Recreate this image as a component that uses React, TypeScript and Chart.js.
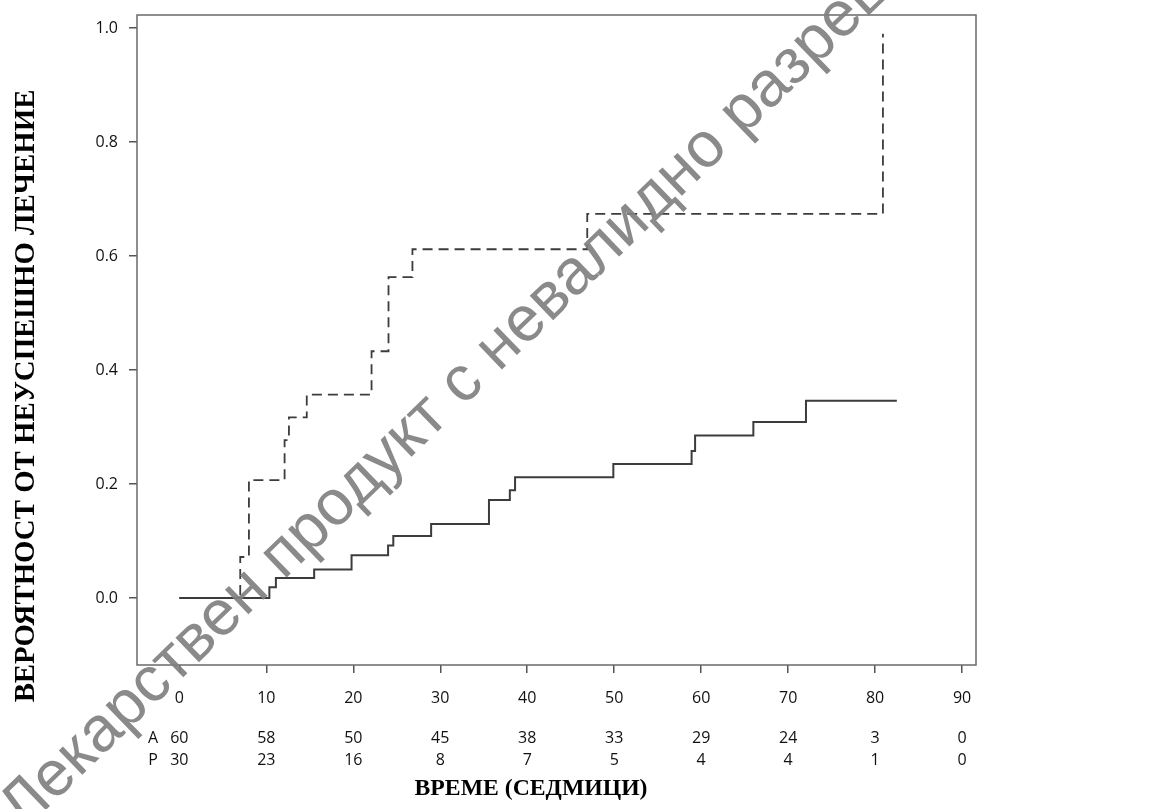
import React, { useEffect, useRef } from 'react';
import { Chart, registerables } from 'chart.js';

Chart.register(...registerables);

// Axis ticks
const xTicks = [0, 10, 20, 30, 40, 50, 60, 70, 80, 90];
const yTicks = [0, 0.2, 0.4, 0.6, 0.8, 1.0];

// Numbers at risk
const riskLabels = ['A', 'P'];
const atRiskA = [60, 58, 50, 45, 38, 33, 29, 24, 3, 0];
const atRiskP = [30, 23, 16, 8, 7, 5, 4, 4, 1, 0];

// Step curve A (solid)
const timesA = [0, 10.35, 11.1, 15.5, 19.8, 24.0, 24.6, 28.95, 35.6, 38.0, 38.6, 49.9, 58.9, 59.3, 66.0, 72.05, 82.5];
const probA = [0, 0.019, 0.035, 0.05, 0.075, 0.092, 0.109, 0.13, 0.172, 0.189, 0.212, 0.235, 0.258, 0.285, 0.309, 0.346, 0.346];

// Step curve P (dashed)
const timesP = [0, 7.0, 8.0, 12.1, 12.6, 14.65, 22.1, 24.05, 26.8, 46.9, 80.9];
const probP = [0, 0.072, 0.207, 0.277, 0.317, 0.357, 0.433, 0.563, 0.612, 0.674, 0.99];

const yTitle = 'ВЕРОЯТНОСТ ОТ НЕУСПЕШНО ЛЕЧЕНИЕ';
const xTitle = 'ВРЕМЕ (СЕДМИЦИ)';
const watermark = 'Лекарствен продукт с невалидно разрешение';

const W = 1152;
const H = 809;

const overlayPlugin = {
  id: 'overlay',
  beforeDatasetsDraw(chart: any) {
    const { ctx, chartArea } = chart;
    ctx.save();
    ctx.strokeStyle = '#6a6a6a';
    ctx.lineWidth = 1.5;
    ctx.strokeRect(chartArea.left, chartArea.top, chartArea.right - chartArea.left, chartArea.bottom - chartArea.top);
    ctx.restore();
  },
  afterDraw(chart: any) {
    const { ctx } = chart;
    const xs = chart.scales.x;
    ctx.save();
    // at-risk table
    ctx.fillStyle = '#111';
    ctx.font = '16px "Open Sans"';
    ctx.textAlign = 'center';
    ctx.textBaseline = 'middle';
    const rows = [atRiskA, atRiskP];
    const rowY = [738, 760];
    rows.forEach((row, r) => {
      ctx.fillText(riskLabels[r], 153, rowY[r]);
      row.forEach((v, i) => {
        ctx.fillText(String(v), xs.getPixelForValue(xTicks[i]), rowY[r]);
      });
    });

    // x title
    ctx.fillStyle = '#000';
    let size = 22;
    ctx.font = `bold ${size}px "Liberation Serif"`;
    let w = ctx.measureText(xTitle).width;
    size = size * 233 / w;
    ctx.font = `bold ${size}px "Liberation Serif"`;
    ctx.fillText(xTitle, 531, 789);

    // y title
    size = 22;
    ctx.font = `bold ${size}px "Liberation Serif"`;
    w = ctx.measureText(yTitle).width;
    size = size * 613 / w;
    ctx.font = `bold ${size}px "Liberation Serif"`;
    ctx.save();
    ctx.translate(27, 396);
    ctx.rotate(-Math.PI / 2);
    ctx.fillText(yTitle, 0, 0);
    ctx.restore();

    // watermark
    const fs = 64;
    ctx.font = `${fs}px "Liberation Sans"`;
    ctx.fillStyle = 'rgba(128,128,128,0.92)';
    ctx.textAlign = 'left';
    ctx.textBaseline = 'alphabetic';
    const prefix = 'Лекарствен продукт ';
    const pw = ctx.measureText(prefix).width;
    const cw = ctx.measureText('с').width;
    const ang = (44 * Math.PI) / 180;
    ctx.translate(463, 384);
    ctx.rotate(-ang);
    ctx.fillText(watermark, -(pw + cw / 2), 0.26 * fs);
    ctx.restore();
  },
};

export default function App() {
  const ref = useRef<HTMLCanvasElement | null>(null);
  useEffect(() => {
    if (!ref.current) return;
    const tickFont = { family: '"Open Sans"', size: 16 };
    const chart = new Chart(ref.current, {
      type: 'line',
      data: {
        datasets: [
          {
            label: 'A',
            data: timesA.map((t, i) => ({ x: t, y: probA[i] })),
            stepped: 'before',
            borderColor: '#3c3c3c',
            borderWidth: 2,
            pointRadius: 0,
            fill: false,
          },
          {
            label: 'P',
            data: timesP.map((t, i) => ({ x: t, y: probP[i] })),
            stepped: 'before',
            borderColor: '#3c3c3c',
            borderWidth: 1.8,
            borderDash: [10, 6],
            pointRadius: 0,
            fill: false,
          },
        ],
      },
      options: {
        responsive: false,
        animation: false,
        layout: { padding: { top: 15, right: W - 976, left: 0, bottom: 0 } },
        plugins: { legend: { display: false }, tooltip: { enabled: false } },
        scales: {
          x: {
            type: 'linear',
            min: -4.87,
            max: 91.6,
            afterBuildTicks: (s: any) => {
              s.ticks = xTicks.map((v) => ({ value: v }));
            },
            afterFit: (s: any) => {
              s.height = H - 665;
              s.paddingLeft = 0;
              s.paddingRight = 0;
            },
            border: { display: false },
            grid: { drawOnChartArea: false, drawTicks: true, tickLength: 8, tickColor: '#555', lineWidth: 1.5 },
            ticks: { font: tickFont, color: '#111', padding: 16, maxRotation: 0, autoSkip: false },
          },
          y: {
            type: 'linear',
            min: -0.1175,
            max: 1.023,
            afterBuildTicks: (s: any) => {
              s.ticks = yTicks.map((v) => ({ value: v }));
            },
            afterFit: (s: any) => {
              s.width = 137;
              s.paddingTop = 0;
              s.paddingBottom = 0;
            },
            border: { display: false },
            grid: { drawOnChartArea: false, drawTicks: true, tickLength: 8, tickColor: '#555', lineWidth: 1.5 },
            ticks: {
              font: tickFont,
              color: '#111',
              padding: 11,
              autoSkip: false,
              callback: (v: any) => Number(v).toFixed(1),
            },
          },
        },
      },
      plugins: [overlayPlugin],
    });
    return () => chart.destroy();
  }, []);
  return (
    <div style={{ position: 'fixed', left: 0, top: 0, width: W, height: H, background: '#fff' }}>
      <canvas ref={ref} width={W} height={H} style={{ display: 'block', width: W, height: H }} />
    </div>
  );
}
